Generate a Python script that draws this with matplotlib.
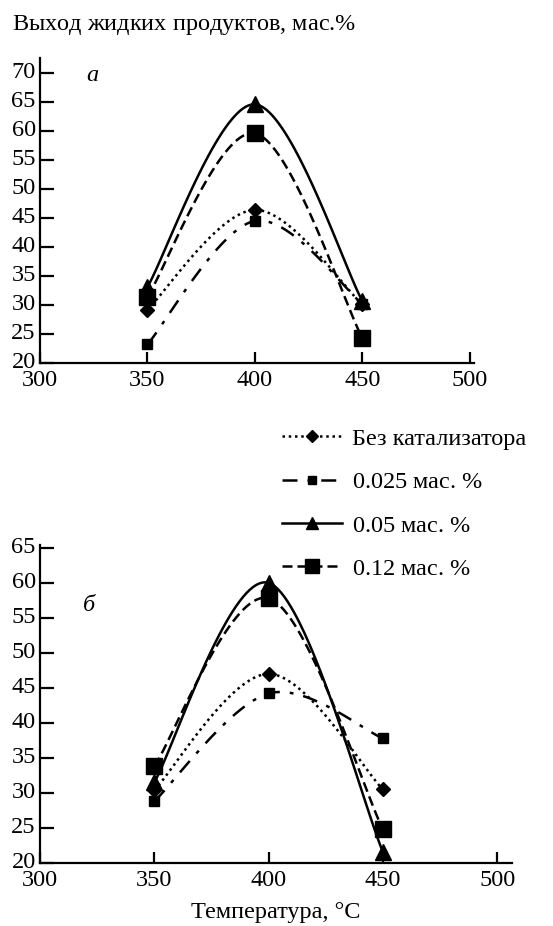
import numpy as np
import matplotlib
matplotlib.use("Agg")
import matplotlib.pyplot as plt
import matplotlib.transforms as mtransforms
from matplotlib.lines import Line2D

plt.rcParams['font.family'] = ['Liberation Serif', 'DejaVu Serif']
plt.rcParams['font.size'] = 17.5
plt.rcParams['mathtext.fontset'] = 'custom'
plt.rcParams['mathtext.rm'] = 'Liberation Serif'
plt.rcParams['mathtext.it'] = 'Liberation Serif:italic'

# temperatures, deg C
temps = [350, 400, 450]

# panel a: liquid products yield, wt %
a_none = [29.2, 46.4, 30.1]
a_025 = [23.2, 44.5, 30.2]
a_05 = [33.1, 64.6, 30.7]
a_12 = [31.4, 59.6, 24.3]

# panel b
b_none = [30.4, 47.0, 30.5]
b_025 = [28.8, 44.2, 37.8]
b_05 = [31.5, 60.0, 21.6]
b_12 = [33.8, 57.8, 24.8]

labels = ['Без катализатора', r'0.025 мас. $\it{\%}$', r'0.05 мас. $\it{\%}$', r'0.12 мас. $\it{\%}$']
styles = [
    dict(ls=(0, (1, 1.5)), marker='D', ms=7),
    dict(ls=(0, (6, 4, 1.5, 4)), marker='s', ms=7),
    dict(ls='-', marker='^', ms=11),
    dict(ls=(0, (4, 2)), marker='s', ms=12),
]


def smooth(xs, ys, n=40):
    # excel-like smoothed line (catmull-rom style bezier)
    p = np.column_stack([xs, ys]).astype(float)
    ext = np.vstack([p[0], p, p[-1]])
    out = []
    t = np.linspace(0, 1, n)[:, None]
    for i in range(len(p) - 1):
        p0, p1 = ext[i + 1], ext[i + 2]
        c1 = p0 + (ext[i + 2] - ext[i]) / 6
        c2 = p1 - (ext[i + 3] - ext[i + 1]) / 6
        seg = (1 - t) ** 3 * p0 + 3 * (1 - t) ** 2 * t * c1 + 3 * (1 - t) * t ** 2 * c2 + t ** 3 * p1
        out.append(seg)
    s = np.vstack(out)
    return s[:, 0], s[:, 1]


def draw(ax, series):
    for ys, st in zip(series, styles):
        sx, sy = smooth(temps, ys)
        ax.plot(sx, sy, color='black', lw=1.8, ls=st['ls'])
        ax.plot(temps, ys, ls='none', marker=st['marker'], ms=st['ms'], color='black')
    for s in ['top', 'right']:
        ax.spines[s].set_visible(False)
    for s in ['left', 'bottom']:
        ax.spines[s].set_linewidth(1.6)
    ax.set_xticks([300, 350, 400, 450, 500])
    ax.tick_params(axis='x', direction='in', length=8, width=1.6, pad=5)
    ax.tick_params(axis='y', direction='in', length=10, width=1.6, pad=3)


fig = plt.figure(figsize=(5.53, 9.26), dpi=100)

ax1 = fig.add_axes([40 / 553, 1 - 363 / 926, 434 / 553, (363 - 58.5) / 926])
draw(ax1, [a_none, a_025, a_05, a_12])
ax1.set_xlim(300, 502)
ax1.set_ylim(20, 72.5)
ax1.set_yticks(range(20, 71, 5))
ax1.text(0.12, 0.945, 'а', transform=ax1.transAxes, style='italic', ha='center', va='center')

ax2 = fig.add_axes([40 / 553, 1 - 863 / 926, 472 / 553, (863 - 545) / 926])
draw(ax2, [b_none, b_025, b_05, b_12])
ax2.set_xlim(300, 506.5)
ax2.set_ylim(20, 65.4)
ax2.set_yticks(range(20, 66, 5))
ax2.text(0.105, 0.81, 'б', transform=ax2.transAxes, style='italic', ha='center', va='center')
ax2.set_xlabel('Температура, °C', labelpad=8)

# y tick labels sit a little above their ticks in the original
shift = mtransforms.ScaledTranslation(0, 3 / 100, fig.dpi_scale_trans)
for ax in (ax1, ax2):
    for lab in ax.get_yticklabels():
        lab.set_transform(lab.get_transform() + shift)

fig.text(12 / 553, 1 - 25 / 926, 'Выход жидких продуктов, мас.' + r'$\it{\%}$', ha='left', va='center')

handles = [Line2D([], [], color='black', lw=1.8, ls=st['ls'], marker=st['marker'], ms=st['ms'] * 0.85)
           for st in styles]
fig.legend(handles, labels, loc='upper left', bbox_to_anchor=(272 / 553, 1 - 418 / 926),
           frameon=False, handlelength=2.5, handletextpad=0.4, labelspacing=0.88, borderaxespad=0)

fig.savefig('out.png', dpi=100)
